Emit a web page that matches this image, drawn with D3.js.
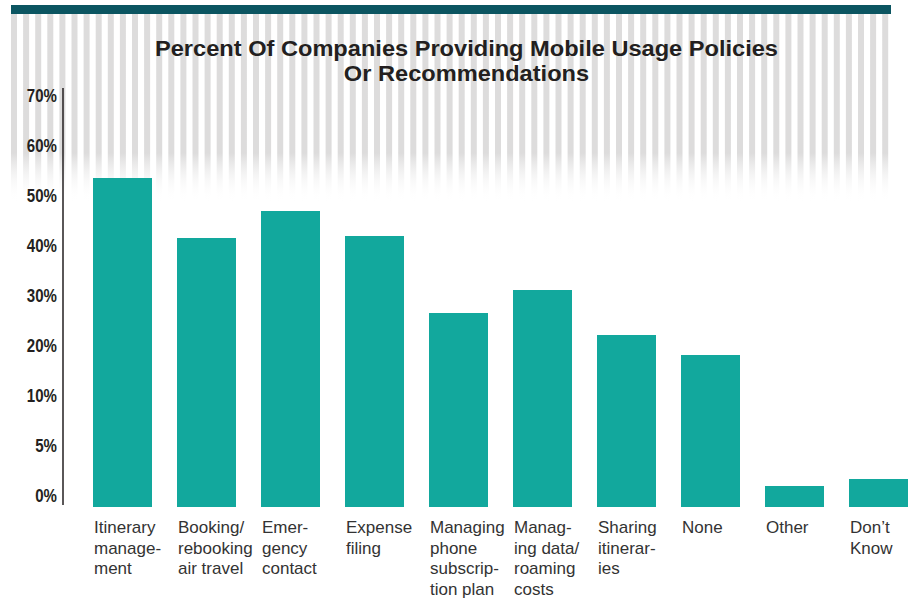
<!DOCTYPE html>
<html>
<head>
<meta charset="utf-8">
<script src="https://cdn.jsdelivr.net/npm/d3@7"></script>
<style>
  body { margin: 0; background: #fff; }
  #chart { width: 909px; height: 599px; }
</style>
</head>
<body>
<div id="chart"></div>
<script>
// Data
const categories = ["Itinerary management", "Booking/rebooking air travel", "Emergency contact",
    "Expense filing", "Managing phone subscription plan", "Managing data/roaming costs",
    "Sharing itineraries", "None", "Other", "Don't Know"];
const labelLines = [
    ["Itinerary", "manage-", "ment"],
    ["Booking/", "rebooking", "air travel"],
    ["Emer-", "gency", "contact"],
    ["Expense", "filing"],
    ["Managing", "phone", "subscrip-", "tion plan"],
    ["Manag-", "ing data/", "roaming", "costs"],
    ["Sharing", "itinerar-", "ies"],
    ["None"],
    ["Other"],
    ["Don\u2019t", "Know"]
];
const values = [55.8, 43.8, 49.2, 44.2, 28.8, 33.4, 24.4, 20.4, 2.1, 2.8];
const yTicks = [0, 5, 10, 20, 30, 40, 50, 60, 70];

const width = 909, height = 599;
const svg = d3.select("#chart")
    .append("svg")
    .attr("width", width)
    .attr("height", height);

// squeeze a bold font to look like a condensed face
const condense = (sel, ratio) => {
    sel.each(function() {
        const w = this.getComputedTextLength();
        d3.select(this)
            .attr("textLength", w * ratio)
            .attr("lengthAdjust", "spacingAndGlyphs");
    });
};

// Striped header background fading out
const defs = svg.append("defs");
const grad = defs.append("linearGradient")
    .attr("id", "fade")
    .attr("gradientUnits", "userSpaceOnUse")
    .attr("x1", 0).attr("x2", 0)
    .attr("y1", 14).attr("y2", 202);
grad.append("stop").attr("offset", 0).attr("stop-color", "#dddcdc");
grad.append("stop").attr("offset", 0.74).attr("stop-color", "#dddcdc");
grad.append("stop").attr("offset", 1).attr("stop-color", "#ffffff").attr("stop-opacity", 0);

svg.append("g").selectAll("rect")
    .data(d3.range(73))
    .enter()
    .append("rect")
    .attr("x", (i) => 11 + i * 12.1)
    .attr("y", 14)
    .attr("width", 6)
    .attr("height", 188)
    .style("fill", "url(#fade)");

svg.append("rect")
    .attr("x", 11).attr("y", 5)
    .attr("width", 880).attr("height", 9)
    .style("fill", "#0b5561");

// Title
const title = svg.append("g")
    .style("font-family", "'Liberation Sans', Arial, sans-serif")
    .style("font-weight", "bold")
    .style("font-size", "22px")
    .style("fill", "#231f20");
const t1 = title.append("text")
    .attr("x", 155).attr("y", 56)
    .text("Percent Of Companies Providing Mobile Usage Policies");
const titleRatio = 623 / t1.node().getComputedTextLength();
condense(t1, titleRatio);
const t2 = title.append("text")
    .attr("y", 81)
    .text("Or Recommendations");
const w2 = t2.node().getComputedTextLength() * titleRatio;
t2.attr("x", 466.5 - w2 / 2);
condense(t2, titleRatio);

// Scales
const x = d3.scaleBand()
    .domain(categories)
    .range([93, 908])
    .paddingInner(0.2976)
    .paddingOuter(0);

const y = d3.scaleLinear()
    .domain(yTicks)
    .range(yTicks.map((t, i) => 507 - i * 50));

// Y axis
svg.append("line")
    .attr("x1", 63).attr("x2", 63)
    .attr("y1", 88).attr("y2", 505)
    .style("stroke", "#231f20")
    .style("stroke-width", 1.5);

const yLabels = svg.append("g").selectAll("text")
    .data(yTicks)
    .enter()
    .append("text")
    .attr("x", 57)
    .attr("y", (d) => y(d) - 5)
    .attr("text-anchor", "end")
    .style("font-family", "'Liberation Sans', Arial, sans-serif")
    .style("font-weight", "bold")
    .style("font-size", "17.5px")
    .style("fill", "#231f20")
    .text((d) => d + "%");
condense(yLabels, 0.86);

// Bars
svg.append("g").selectAll("rect")
    .data(values)
    .enter()
    .append("rect")
    .attr("x", (d, i) => x(categories[i]))
    .attr("y", (d) => y(d))
    .attr("width", x.bandwidth())
    .attr("height", (d) => y(0) - y(d))
    .style("fill", "#12a89d");

// Category labels
const labels = svg.append("g").selectAll("text")
    .data(categories)
    .enter()
    .append("text")
    .attr("x", (d) => x(d) + 1)
    .attr("y", 533)
    .style("font-family", "'Liberation Sans', Arial, sans-serif")
    .style("font-size", "17px")
    .style("fill", "#333333");

labels.each(function(d, i) {
    d3.select(this).selectAll("tspan")
        .data(labelLines[i])
        .enter()
        .append("tspan")
        .attr("x", x(d) + 1)
        .attr("dy", (l, j) => j === 0 ? 0 : 20.5)
        .text((l) => l);
});
</script>
</body>
</html>
